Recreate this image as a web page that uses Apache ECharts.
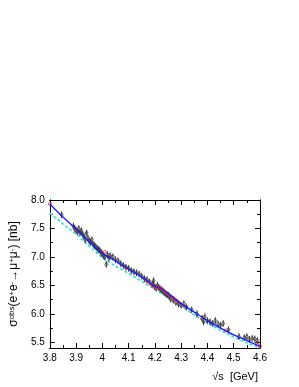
<!DOCTYPE html>
<html><head><meta charset="utf-8">
<script src="https://cdn.jsdelivr.net/npm/echarts@6/dist/echarts.min.js"></script>
<style>html,body{margin:0;padding:0;background:#fff}#c{width:299px;height:387px}</style>
</head><body><div id="c"></div>
<script>
// ---- data ----
var dataX = [3.845,3.89,3.895,3.90,3.905,3.91,3.915,3.92,3.925,3.93,3.935,3.94,3.945,3.95,3.955,3.96,3.965,3.97,3.975,3.98,3.985,3.99,3.995,4.00,4.005,4.01,4.015,4.02,4.025,4.03,4.04,4.05,4.06,4.07,4.08,4.09,4.10,4.11,4.12,4.13,4.14,4.15,4.16,4.17,4.18,4.19,4.195,4.20,4.205,4.21,4.215,4.22,4.225,4.23,4.235,4.24,4.245,4.25,4.255,4.26,4.27,4.28,4.29,4.30,4.31,4.32,4.34,4.36,4.38,4.385,4.39,4.40,4.41,4.42,4.43,4.44,4.45,4.46,4.48,4.52,4.54,4.55,4.56,4.57,4.58,4.59];
var dataY = [7.74,7.54,7.50,7.47,7.44,7.50,7.42,7.46,7.40,7.36,7.30,7.42,7.33,7.28,7.26,7.30,7.22,7.20,7.18,7.15,7.13,7.12,7.08,7.05,7.02,7.00,6.87,7.04,6.98,7.02,7.00,6.95,6.93,6.88,6.85,6.82,6.80,6.76,6.74,6.72,6.70,6.66,6.62,6.60,6.56,6.52,6.58,6.48,6.45,6.50,6.46,6.44,6.42,6.40,6.38,6.36,6.34,6.33,6.30,6.26,6.24,6.20,6.17,6.15,6.18,6.12,6.07,6.00,5.92,5.86,5.95,5.88,5.86,5.83,5.88,5.82,5.80,5.83,5.72,5.60,5.58,5.60,5.55,5.57,5.56,5.53];
var dataErr = 0.06;
var blueX = [3.80,3.85,3.90,3.95,4.00,4.05,4.10,4.15,4.18,4.20,4.22,4.25,4.30,4.35,4.40,4.45,4.50,4.55,4.60];
var blueY = [7.93,7.70,7.49,7.27,7.06,6.93,6.79,6.65,6.55,6.48,6.45,6.36,6.18,6.03,5.88,5.75,5.63,5.53,5.43];
var cyanX = [3.80,3.85,3.90,3.95,4.00,4.05,4.10,4.15,4.20,4.25,4.30,4.35,4.40,4.45,4.50,4.55,4.60];
var cyanY = [7.77,7.58,7.40,7.19,6.98,6.84,6.71,6.57,6.43,6.29,6.13,5.98,5.84,5.71,5.59,5.49,5.40];
var redX = [3.80,3.90,4.01,4.09,4.17,4.19,4.20,4.21,4.22,4.23,4.24,4.25,4.26,4.27,4.28,4.29,4.31,4.38,4.47,4.59,4.60];
var redY = [7.93,7.48,7.09,6.81,6.57,6.50,6.46,6.47,6.45,6.43,6.38,6.35,6.31,6.28,6.24,6.20,6.14,5.91,5.71,5.47,5.43];
var redLineX = [4.17,4.19,4.20,4.21,4.22,4.23,4.24,4.25,4.26,4.27,4.28,4.29];
var redLineY = [6.57,6.50,6.46,6.47,6.45,6.43,6.38,6.35,6.31,6.28,6.24,6.20];
var xTicks = [3.8,3.9,4.0,4.1,4.2,4.3,4.4,4.5,4.6];
var xMinor = [3.85,3.95,4.05,4.15,4.25,4.35,4.45,4.55];
var yTicks = [5.5,6.0,6.5,7.0,7.5,8.0];
var yMinor = [5.75,6.25,6.75,7.25,7.75];

function zip(a,b){return a.map(function(v,i){return [v,b[i]];});}

var chart = echarts.init(document.getElementById('c'));
var font = 'Liberation Sans, Arial, sans-serif';
function xAx(pos, vals, len, labels){
  return {type:'value', min:3.8, max:4.6, position:pos, gridIndex:0,
    axisLine:{show:true, onZero:false, lineStyle:{color:'#000', width:1}},
    axisTick:{show:true, inside:true, length:len, customValues:vals, lineStyle:{color:'#000'}},
    axisLabel:{show:labels, customValues:xTicks, color:'#000', fontSize:10, fontFamily:font, margin:5,
      formatter:function(v){return String(Math.round(v*10)/10);}},
    splitLine:{show:false}};
}
function yAx(pos, vals, len, labels){
  return {type:'value', min:5.4, max:8.0, position:pos, gridIndex:0,
    axisLine:{show:true, onZero:false, lineStyle:{color:'#000', width:1}},
    axisTick:{show:true, inside:true, length:len, customValues:vals, lineStyle:{color:'#000'}},
    axisLabel:{show:labels, customValues:yTicks, color:'#000', fontSize:10, fontFamily:font, margin:5,
      formatter:function(v){return v.toFixed(1);}},
    splitLine:{show:false}};
}
var yMain = yAx('left', yTicks, 5, true);
yMain.name = 'σ{s|obs}(e{s|+}e{s|-}→μ{s|+}μ{s|-}) [nb]';
yMain.nameLocation = 'middle';
yMain.nameRotate = 90;
yMain.nameGap = 24;
yMain.nameTextStyle = {color:'#000', fontSize:12, fontFamily:font,
  rich:{s:{fontSize:8, verticalAlign:'top', fontFamily:font, color:'#000', padding:[0,0,4,0]}}};

var option = {
  animation:false,
  grid:{left:49, right:39, top:200, bottom:39},
  xAxis:[xAx('bottom', xTicks, 5, true), xAx('bottom', xMinor, 3, false), xAx('top', xTicks, 5, false), xAx('top', xMinor, 3, false)],
  yAxis:[yMain, yAx('left', yMinor, 3, false), yAx('right', yTicks, 5, false), yAx('right', yMinor, 3, false)],
  series:[
    {type:'line', data:zip(cyanX,cyanY), showSymbol:false, symbol:'none',
     lineStyle:{color:'#22dddd', width:1.5, type:[3,2]}, z:2},
    {type:'custom', data:zip(dataX,dataY), z:3,
     renderItem:function(params, api){
       var x=api.value(0), y=api.value(1);
       var p=api.coord([x,y]);
       var t=api.coord([x,y+dataErr]);
       var b=api.coord([x,y-dataErr]);
       return {type:'group', children:[
         {type:'line', shape:{x1:p[0],y1:t[1],x2:p[0],y2:b[1]}, style:{stroke:'#444', lineWidth:1}},
         {type:'polygon', shape:{points:[[p[0],p[1]-2.2],[p[0]+1.5,p[1]],[p[0],p[1]+2.2],[p[0]-1.5,p[1]]]}, style:{fill:'none', stroke:'#333', lineWidth:0.8}}
       ]};
     }},
    {type:'line', data:zip(redLineX,redLineY), showSymbol:false, symbol:'none',
     lineStyle:{color:'#e03030', width:1.5}, z:4},
    {type:'scatter', data:zip(redX,redY), symbol:'circle', symbolSize:3,
     itemStyle:{color:'rgba(0,0,0,0)', borderColor:'#e83030', borderWidth:1}, z:5},
    {type:'line', data:zip(blueX,blueY), showSymbol:false, symbol:'none', smooth:0.2,
     lineStyle:{color:'#1a1aff', width:1.3}, z:6}
  ],
  graphic:[{type:'text', right:41, top:371, style:{text:'√s  [GeV]', font:'11px '+font, fill:'#000'}}]
};
chart.setOption(option);
</script></body></html>
